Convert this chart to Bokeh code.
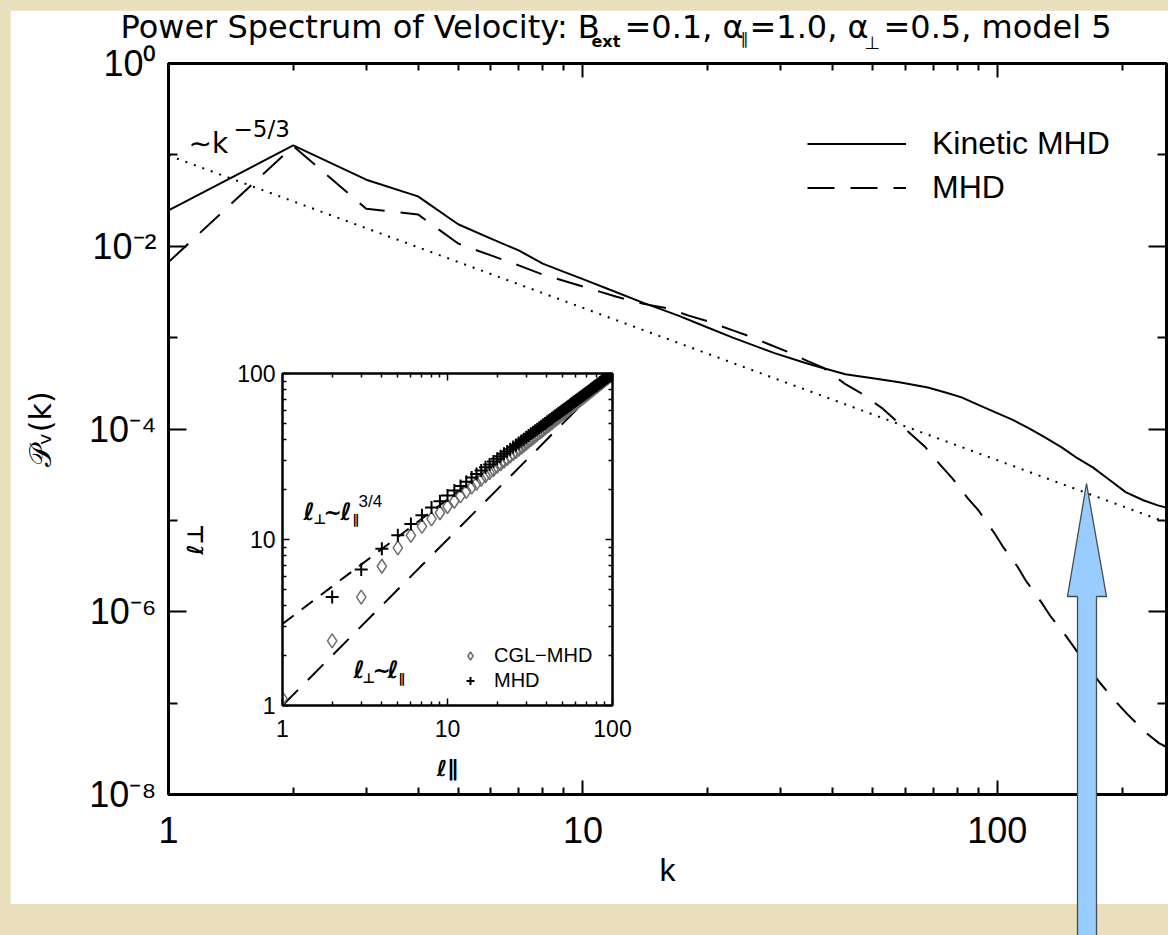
from bokeh.plotting import figure
from bokeh.models import (FixedTicker, CustomJSTickFormatter, LogAxis, Label,
                          Legend, LegendItem, Range1d)
from bokeh.layouts import column
from bokeh.embed import file_html
from bokeh.resources import INLINE

# ---------------- main spectrum data ----------------
k_kinetic = [1, 2, 3, 4, 5, 6, 7, 8, 9, 10, 12, 14, 17, 20, 23, 26, 29, 34, 37, 43,
             51, 58, 65, 68, 75, 82, 90, 99, 109, 119, 130, 143, 156, 170, 187, 204,
             225, 244, 256]
P_kinetic = [2.47e-2, 1.27e-1, 5.35e-2, 3.51e-2, 1.74e-2, 1.21e-2, 9.0e-3, 6.46e-3,
             5.25e-3, 4.37e-3, 3.16e-3, 2.40e-3, 1.74e-3, 1.29e-3, 1.0e-3, 8.13e-4,
             6.76e-4, 5.37e-4, 4.79e-4, 3.98e-4, 3.55e-4, 3.24e-4, 2.95e-4, 2.85e-4,
             2.51e-4, 2.22e-4, 1.84e-4, 1.52e-4, 1.26e-4, 1.02e-4, 8.13e-5, 6.30e-5,
             4.79e-5, 3.80e-5, 2.75e-5, 2.04e-5, 1.66e-5, 1.46e-5, 1.38e-5]

k_mhd = [1, 2, 3, 4, 5, 6, 7, 8, 10, 12, 14, 16, 18, 20, 23, 25, 28, 31, 35, 38,
         43, 47, 53, 60, 67, 73, 78, 85, 90, 98, 103, 112, 117, 128, 134, 147, 160,
         177, 195, 207, 229, 246, 256]
P_mhd = [6.7e-3, 1.245e-1, 2.57e-2, 2.23e-2, 1.07e-2, 7.94e-3, 6.17e-3, 4.9e-3,
         3.63e-3, 2.82e-3, 2.34e-3, 2.09e-3, 1.74e-3, 1.51e-3, 1.2e-3, 1.05e-3,
         8.51e-4, 7.08e-4, 5.5e-4, 4.68e-4, 3.09e-4, 2.45e-4, 1.66e-4, 1.0e-4,
         6.35e-5, 4.0e-5, 2.86e-5, 1.73e-5, 1.29e-5, 7.45e-6, 5.2e-6, 3.09e-6,
         2.21e-6, 1.25e-6, 9.1e-7, 5.3e-7, 3.09e-7, 1.66e-7, 9.9e-8, 7.4e-8,
         4.68e-8, 3.63e-8, 3.31e-8]

k_ref = [1, 256]            # ~k^-5/3 guide
P_ref = [0.0984, 9.5e-6]

x_major = [1, 10, 100]
x_minor = [2, 3, 4, 5, 6, 7, 8, 9, 20, 30, 40, 50, 60, 70, 80, 90, 200]
y_major = [1e0, 1e-2, 1e-4, 1e-6, 1e-8]
y_minor = [1e-1, 1e-3, 1e-5, 1e-7]

# ---------------- inset data ----------------
l_par_cgl = list(range(1, 101))
l_perp_cgl = [1.1, 2.45, 4.5, 6.9, 8.9, 10.6, 12.0, 13.3, 14.5, 15.8,
              17.0, 18.3, 19.5, 20.7, 21.8, 23.0, 24.2, 25.3, 26.4, 27.6,
              28.6, 29.7, 30.7, 31.8, 32.9, 33.9, 34.9, 35.9, 36.9, 38.0,
              39.0, 40.0, 41.0, 42.0, 43.0, 44.0, 44.9, 45.9, 46.9, 47.9,
              48.8, 49.8, 50.7, 51.7, 52.6, 53.5, 54.5, 55.4, 56.3, 57.3,
              58.2, 59.1, 60.0, 60.9, 61.8, 62.7, 63.6, 64.5, 65.3, 66.2,
              67.1, 68.0, 68.9, 69.7, 70.6, 71.5, 72.3, 73.2, 74.1, 75.0,
              75.8, 76.7, 77.5, 78.4, 79.2, 80.0, 80.9, 81.7, 82.6, 83.4,
              84.2, 85.0, 85.9, 86.7, 87.5, 88.3, 89.2, 90.0, 90.8, 91.6,
              92.4, 93.2, 94.0, 94.9, 95.7, 96.5, 97.3, 98.1, 98.9, 99.7]
l_par_mhd = list(range(2, 101))
l_perp_mhd = [4.5, 6.6, 8.8, 10.6, 12.4, 14.0, 15.6, 17.0, 18.4,
              19.7, 21.0, 22.3, 23.6, 24.8, 26.0, 27.2, 28.3, 29.5, 30.6,
              31.7, 32.8, 33.9, 35.0, 36.1, 37.1, 38.2, 39.2, 40.2, 41.3,
              42.3, 43.3, 44.3, 45.2, 46.2, 47.2, 48.1, 49.1, 50.0, 51.0,
              51.9, 52.8, 53.8, 54.7, 55.6, 56.5, 57.4, 58.3, 59.2, 60.1,
              60.9, 61.8, 62.7, 63.6, 64.4, 65.3, 66.1, 67.0, 67.8, 68.7,
              69.5, 70.3, 71.2, 72.0, 72.8, 73.7, 74.5, 75.3, 76.1, 76.9,
              77.7, 78.5, 79.3, 80.1, 80.9, 81.7, 82.5, 83.3, 84.1, 84.8,
              85.6, 86.4, 87.2, 87.9, 88.7, 89.5, 90.2, 91.0, 91.8, 92.5,
              93.3, 94.0, 94.8, 95.5, 96.3, 97.0, 97.7, 98.5, 99.2, 100.0]
l_guide = [1, 100]
l_perp_iso = [1, 100]        # l_perp ~ l_par
l_perp_34 = [3.1, 98]        # l_perp ~ l_par^(3/4)
inset_major = [1, 10, 100]
inset_minor = [2, 3, 4, 5, 6, 7, 8, 9, 20, 30, 40, 50, 60, 70, 80, 90]

# arrow annotation outline (pixels inside its own small overlay)
arrow_x = [30, 50, 40, 40, 21, 21, 11]
arrow_y = [5, 118, 118, 470, 470, 118, 118]

# ---------------- styles ----------------
BEIGE = "#EAE0BE"
FONT = "Liberation Sans"
TFONT = "DejaVu Sans"
BASE_SHIFT = 0.36   # baseline correction for Label text (fraction of font size)

SUP_JS = """
const e = Math.round(Math.log10(tick));
const m = {"-":"\u207b","0":"\u2070","1":"\u00b9","2":"\u00b2","3":"\u00b3","4":"\u2074",
           "5":"\u2075","6":"\u2076","7":"\u2077","8":"\u2078","9":"\u2079"};
return "10" + String(e).split("").map(c => m[c]).join("");
"""
PLAIN_JS = "return String(Math.round(tick));"
BLANK_JS = "return '';"


def style_axis(ax, maj, mnr, lw=3, tw=2):
    ax.major_tick_in = maj
    ax.major_tick_out = 0
    ax.minor_tick_in = mnr
    ax.minor_tick_out = 0
    ax.axis_line_width = lw
    ax.major_tick_line_width = tw
    ax.minor_tick_line_width = tw
    ax.axis_line_color = "black"
    ax.major_tick_line_color = "black"
    ax.minor_tick_line_color = "black"
    ax.major_label_text_font = FONT
    ax.major_label_text_color = "black"
    ax.axis_label_text_color = "black"


def blank_axis(ticks, minor, maj, mnr, lw=3, tw=2):
    ax = LogAxis(ticker=FixedTicker(ticks=ticks, minor_ticks=minor),
                 formatter=CustomJSTickFormatter(code=BLANK_JS))
    style_axis(ax, maj, mnr, lw, tw)
    ax.major_label_text_font_size = "1px"
    ax.major_label_standoff = 0
    return ax


def lab(fig, x, y, text, size, font=FONT, style="normal", units="screen"):
    # screen units: y grows upward; data units in the overlays: y grows downward
    yy = y + BASE_SHIFT * size if units == "screen" else y - BASE_SHIFT * size
    fig.add_layout(Label(x=x, y=yy, x_units=units, y_units=units, text=text,
                         text_font=font, text_font_size=f"{size}px",
                         text_font_style=style, text_color="black",
                         text_baseline="alphabetic", text_align="left"))


def overlay(width, height, left, top, xr, yr):
    f = figure(width=width, height=height, x_range=xr, y_range=yr,
               min_border=0, x_axis_location=None, y_axis_location=None,
               output_backend="svg", toolbar_location=None,
               outline_line_color=None, background_fill_color=None, border_fill_color=None)
    f.xgrid.visible = False
    f.ygrid.visible = False
    f.styles = {"position": "absolute", "left": f"{left}px", "top": f"{top}px"}
    return f


# ---------------- main figure ----------------
p = figure(x_axis_type="log", y_axis_type="log",
           x_range=Range1d(1, 256), y_range=Range1d(1e-8, 1),
           frame_width=998, frame_height=731,
           min_border_left=158, min_border_right=2, min_border_top=53, min_border_bottom=110,
           output_backend="svg", toolbar_location=None,
           background_fill_color="white", border_fill_color="white",
           outline_line_color="black", outline_line_width=3)
p.margin = (10, 0, 31, 10)
p.xgrid.visible = False
p.ygrid.visible = False

xa = p.xaxis[0]
xa.ticker = FixedTicker(ticks=x_major, minor_ticks=x_minor)
xa.formatter = CustomJSTickFormatter(code=PLAIN_JS)
style_axis(xa, 14, 7)
xa.major_label_text_font_size = "36px"
xa.major_label_standoff = 22
xa.axis_label = "k"
xa.axis_label_text_font = FONT
xa.axis_label_text_font_size = "32px"
xa.axis_label_text_font_style = "normal"
xa.axis_label_standoff = 6

ya = p.yaxis[0]
ya.ticker = FixedTicker(ticks=y_major, minor_ticks=y_minor)
ya.formatter = CustomJSTickFormatter(code=SUP_JS)
style_axis(ya, 18, 9)
ya.major_label_text_font_size = "36px"
ya.major_label_standoff = 12
ya.axis_label = "\U0001D4AB\u1D65(k)"
ya.axis_label_text_font = TFONT
ya.axis_label_text_font_size = "30px"
ya.axis_label_text_font_style = "normal"
ya.axis_label_standoff = 28

p.add_layout(blank_axis(x_major, x_minor, 14, 7), "above")
p.add_layout(blank_axis(y_major, y_minor, 18, 9), "right")

p.line(k_ref, P_ref, line_color="black", line_width=2, line_dash="2 7")
r_kin = p.line(k_kinetic, P_kinetic, line_color="black", line_width=2, line_join="round")
r_mhd = p.line(k_mhd, P_mhd, line_color="black", line_width=2, line_dash="27 16")

leg = Legend(items=[LegendItem(label="Kinetic MHD", renderers=[r_kin]),
                    LegendItem(label="MHD", renderers=[r_mhd])],
             location=(639, 588), glyph_width=99, glyph_height=37, label_height=37,
             label_standoff=26, spacing=7, padding=0, margin=0,
             border_line_color=None, background_fill_alpha=0,
             label_text_font=FONT, label_text_font_size="32px", label_text_color="black")
p.add_layout(leg)

# ~k^-5/3 annotation (inside the frame)
lab(p, 20, 641, "\u223ck", 28, TFONT)
lab(p, 65, 657, "\u22125/3", 23, TFONT)

root = column(p, styles={"background-color": BEIGE})

# ---------------- title overlay (pieces so subscripts are real smaller text) ----------------
ttl = overlay(1168, 60, 0, 0, Range1d(0, 1168), Range1d(60, 0))
lab(ttl, 120, 38, "Power Spectrum of Velocity: B", 32, TFONT, units="data")
lab(ttl, 591, 47, "ext", 16, TFONT, "bold", units="data")
lab(ttl, 624, 38, "=0.1, \u03b1", 32, TFONT, units="data")
lab(ttl, 740, 44, "\u2225", 16, TFONT, units="data")
lab(ttl, 749, 38, "=1.0, \u03b1", 32, TFONT, units="data")
lab(ttl, 864, 48, "\u22a5", 18, TFONT, units="data")
lab(ttl, 883, 38, "=0.5, model 5", 32, TFONT, units="data")

# ---------------- inset figure ----------------
ins = figure(x_axis_type="log", y_axis_type="log",
             x_range=Range1d(1, 100), y_range=Range1d(1, 100),
             frame_width=330, frame_height=332,
             min_border_left=110, min_border_right=30, min_border_top=16, min_border_bottom=100,
             output_backend="svg", toolbar_location=None,
             background_fill_color="white", border_fill_color=None,
             outline_line_color="black", outline_line_width=2)
ins.styles = {"position": "absolute", "left": "172px", "top": "357px"}
ins.xgrid.visible = False
ins.ygrid.visible = False

ixa = ins.xaxis[0]
ixa.ticker = FixedTicker(ticks=inset_major, minor_ticks=inset_minor)
ixa.formatter = CustomJSTickFormatter(code=PLAIN_JS)
style_axis(ixa, 7, 4, 2, 1.5)
ixa.major_label_text_font_size = "23px"
ixa.major_label_standoff = 14
ixa.axis_label = "\u2113\u2225"
ixa.axis_label_text_font = TFONT
ixa.axis_label_text_font_size = "22px"
ixa.axis_label_text_font_style = "bold"
ixa.axis_label_standoff = 16

iya = ins.yaxis[0]
iya.ticker = FixedTicker(ticks=inset_major, minor_ticks=inset_minor)
iya.formatter = CustomJSTickFormatter(code=PLAIN_JS)
style_axis(iya, 7, 4, 2, 1.5)
iya.major_label_text_font_size = "23px"
iya.major_label_standoff = 7
iya.axis_label = "\u2113\u22a5"
iya.axis_label_text_font = TFONT
iya.axis_label_text_font_size = "22px"
iya.axis_label_text_font_style = "bold"
iya.axis_label_standoff = 26

ins.add_layout(blank_axis(inset_major, inset_minor, 7, 4, 2, 1.5), "above")
ins.add_layout(blank_axis(inset_major, inset_minor, 7, 4, 2, 1.5), "right")

ins.line(l_guide, l_perp_iso, line_color="black", line_width=2, line_dash="22 14")
ins.line(l_guide, l_perp_34, line_color="black", line_width=2, line_dash="14 10")
r_cgl = ins.scatter(l_par_cgl, l_perp_cgl, marker="diamond", size=14,
                    fill_color=None, line_color="#6e6e6e", line_width=1.5)
r_pls = ins.scatter(l_par_mhd, l_perp_mhd, marker="cross", size=13,
                    line_color="black", line_width=2)

ileg = Legend(items=[LegendItem(label="CGL\u2212MHD", renderers=[r_cgl]),
                     LegendItem(label="MHD", renderers=[r_pls])],
              location=(178, 12), glyph_width=20, glyph_height=25, label_height=25,
              label_standoff=14, spacing=0, padding=0, margin=0,
              border_line_color=None, background_fill_alpha=0,
              label_text_font=FONT, label_text_font_size="20px", label_text_color="black")
ins.add_layout(ileg)

# inset texts
lab(ins, 21, 185, "\u2113", 24, TFONT, "bold italic")
lab(ins, 31, 181, "\u22a5", 14, TFONT, "bold")
lab(ins, 41, 185, "~", 22, TFONT, "bold")
lab(ins, 58, 185, "\u2113", 24, TFONT, "bold italic")
lab(ins, 70, 181, "\u2225", 13, TFONT, "bold")
lab(ins, 76, 198, "3/4", 17, FONT)

lab(ins, 71, 27, "\u2113", 24, TFONT, "bold italic")
lab(ins, 80, 22, "\u22a5", 14, TFONT, "bold")
lab(ins, 90, 27, "~", 22, TFONT, "bold")
lab(ins, 105, 27, "\u2113", 24, TFONT, "bold italic")
lab(ins, 116, 22, "\u2225", 13, TFONT, "bold")

# ---------------- arrow overlay ----------------
arr = overlay(60, 457, 1056, 478, Range1d(0, 60), Range1d(457, 0))
arr.patch(arrow_x, arrow_y, fill_color="#99CCFF", line_color="#4a4a4a", line_width=1.3)

html = file_html([root, ins, arr, ttl], INLINE, title="Power Spectrum of Velocity")
open("out.html", "w", encoding="utf-8").write(html)
